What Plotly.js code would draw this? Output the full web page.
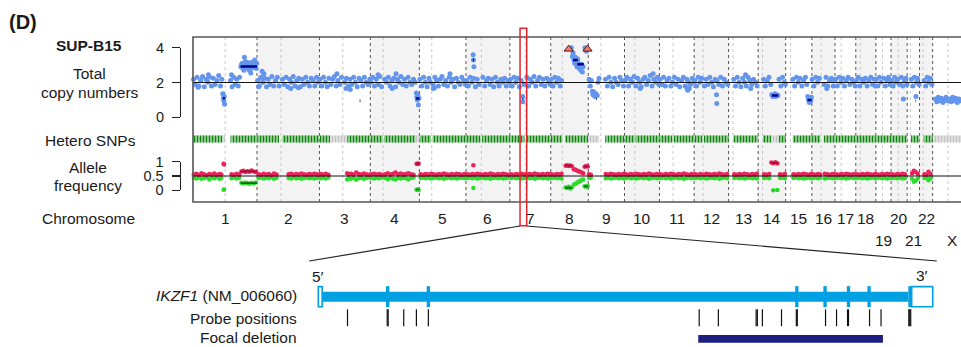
<!DOCTYPE html>
<html><head><meta charset="utf-8">
<script src="https://cdn.plot.ly/plotly-3.0.1.min.js"></script>
<style>html,body{margin:0;padding:0;background:#fff}#chart{width:961px;height:347px}</style>
</head><body><div id="chart"></div>
<script>
// ---------------- DATA ----------------
const chrNames = ['1','2','3','4','5','6','7','8','9','10','11','12','13','14','15','16','17','18','19','20','21','22','X'];
const chrSizes = [249,243,198,191,181,171,159,146,141,136,135,134,115,107,102,90,81,78,59,63,48,51,155];
const chrCentromeres = [125,93,91,50,48,60,60,45,49,40,53,35,17,17,19,36,24,17,26,28,13,14,60];
const secondRowLabels = ['19','21','X'];

// total copy number points: [genome position (Mb), copy number]
const cnPoints = [
 [2,2.18],[9,1.88],[16,2.3],[20,1.72],[23,1.8],[30,2.12],[37,2.35],[44,1.75],[51,2.18],[58,2.02],[60,2.45],[65,2.3],[72,1.8],[79,2.25],[86,1.88],[93,2.12],[100,2.4],[107,1.8],[112,2.18],
 [116,1.35],[118,1.1],[120,0.95],[122,1.2],[123,0.75],
 [146,2.12],[150,2.45],[152,1.75],[158,2.3],[164,1.88],[170,2.18],[176,1.8],[181,2.3],
 [186,2.9],[189,3.05],[192,3.1],[195,2.8],[198,2.7],[200,3.45],[201,3.0],[204,3.2],[207,2.9],[210,2.85],[213,3.15],[216,3.0],[219,2.7],[222,2.75],[225,2.55],[228,3.15],[231,2.85],[234,2.95],[237,3.05],[240,3.3],[243,2.95],[246,2.8],[248,3.1],
 [251,2.12],[255,1.75],[258,1.8],[262,2.25],[265,2.3],[269,2.65],[272,2.02],[276,2.5],[279,2.25],[286,1.75],[293,2.18],[300,1.88],[307,2.35],[314,1.8],[321,2.12],[328,2.3],[335,1.8],[348,2.18],[355,1.88],[362,2.3],[369,1.75],[376,2.18],[380,1.65],[383,2.02],[390,2.35],[397,1.8],[404,2.12],[410,1.7],[411,2.25],[418,1.75],[425,2.18],[432,1.88],[439,2.3],[446,2.02],[453,1.8],[460,2.25],[467,2.12],[474,1.8],[481,2.3],[488,2.02],
 [494,2.18],[501,1.8],[508,2.3],[515,2.02],[522,1.75],[529,2.25],[536,1.88],[543,2.18],[550,2.35],[557,1.8],[560,2.5],[564,2.12],[571,1.88],[578,2.3],[590,2.02],[595,1.65],[597,2.25],[604,1.8],[605,1.7],[611,2.18],[612,1.6],[618,1.88],[625,2.3],[632,2.02],[639,1.75],[646,2.25],[653,2.12],[660,1.8],[667,2.3],[674,2.02],[681,1.88],[688,2.18],
 [692,2.02],[699,2.3],[706,1.8],[713,2.18],[720,2.45],[722,1.88],[727,2.35],[734,1.75],[746,2.18],[753,2.02],[760,2.3],[767,1.8],[774,2.12],[775,1.65],[781,2.25],[788,1.75],[790,2.5],[795,2.18],[802,2.02],[809,2.35],[816,1.88],[823,2.18],[830,1.8],[837,2.3],[844,2.02],[851,1.88],[858,2.18],[864,2.02],
 [869,1.4],[871,1.15],[873,1.0],[875,1.25],[877,0.7],[879,1.1],
 [883,2.18],[890,1.8],[897,2.3],[904,2.02],[911,1.75],[918,2.25],[924,2.02],[934,1.88],[935,1.65],[940,1.7],[941,2.3],[948,2.12],[955,1.8],[962,2.18],[969,2.35],[976,1.88],[983,2.12],[990,1.8],[997,2.3],[1000,2.5],[1004,2.02],[1011,2.18],[1018,1.75],[1025,2.25],[1032,2.02],[1039,1.88],[1046,2.3],[1053,2.12],[1060,1.88],
 [1064,2.12],[1071,1.8],[1078,2.3],[1085,2.02],[1090,3.6],[1091,3.3],[1092,2.25],[1093,2.9],[1099,1.75],[1106,2.18],[1113,1.88],[1128,2.3],[1135,1.8],[1142,2.12],[1149,2.25],[1156,1.88],[1163,2.18],[1170,1.75],[1177,2.3],[1184,2.02],[1191,1.8],[1198,2.18],[1205,2.02],[1212,2.25],[1219,1.8],[1226,2.12],[1231,2.02],
 [1235,2.18],[1242,1.8],[1249,2.3],[1256,2.02],[1263,2.25],[1270,1.75],[1277,2.12],[1283,1.2],[1283.5,0.9],[1288,1.88],[1299,2.3],[1306,1.8],[1313,2.18],[1320,2.02],[1327,2.35],[1334,1.8],[1341,2.12],[1348,2.3],[1355,1.88],[1362,2.18],[1369,1.8],[1376,2.25],[1383,2.02],[1390,1.88],
 [1394,2.18],[1401,1.8],[1408,2.3],[1415,2.02],[1422,2.25],[1429,1.8],[1434,2.12],
 [1451,4.3],[1454,4.5],[1457,4.1],[1460,4.6],[1463,4.2],[1469,4.4],[1472,4.0],
 [1476,3.5],[1479,3.7],[1482,3.3],[1485,3.1],[1488,3.45],[1491,3.2],[1494,2.9],[1497,3.35],[1500,3.1],[1503,2.8],[1506,3.0],[1509,2.7],[1512,3.05],[1515,2.6],[1518,2.9],
 [1522,4.3],[1525,4.0],[1528,4.5],[1531,3.8],[1534,4.2],[1537,4.4],
 [1541,2.18],[1546,1.8],[1550,2.12],[1554,1.5],[1556,1.3],[1560,1.45],[1564,1.2],[1568,1.35],[1573,1.25],[1576,2.02],[1580,2.25],
 [1605,2.18],[1612,1.8],[1619,2.3],[1626,2.02],[1633,1.75],[1640,2.25],[1647,2.02],[1654,1.88],[1661,2.3],[1668,2.12],[1675,1.8],
 [1681,2.12],[1688,2.3],[1695,1.8],[1702,2.18],[1709,2.02],[1716,2.35],[1723,1.8],[1730,2.25],[1737,2.02],[1740,1.65],[1744,1.75],[1751,2.18],[1758,2.3],[1765,1.88],[1772,2.12],[1779,2.4],[1786,1.8],[1790,2.5],[1793,2.18],[1800,2.02],[1807,2.3],[1813,1.88],
 [1817,2.18],[1824,1.88],[1831,2.3],[1838,1.8],[1845,2.12],[1852,2.25],[1859,1.8],[1866,2.02],[1873,2.3],[1880,1.88],[1887,2.18],[1894,1.75],[1901,2.12],[1908,2.3],[1915,1.8],[1921,1.7],[1922,2.18],[1925,1.55],[1929,2.02],[1931,1.65],[1936,1.88],[1943,2.25],[1948,2.02],
 [1952,2.12],[1959,1.8],[1966,2.3],[1973,2.02],[1980,2.25],[1990,1.8],[1997,2.18],[2004,1.88],[2011,2.3],[2018,2.02],[2025,1.75],[2032,2.18],[2037,1.3],[2038,0.8],[2039,2.12],[2046,1.88],[2053,2.3],[2060,1.8],[2067,2.18],[2074,2.02],[2081,1.88],
 [2104,2.18],[2111,1.8],[2118,2.3],[2125,2.02],[2132,1.75],[2139,2.25],[2146,2.02],[2150,2.45],[2153,1.8],[2160,2.3],[2167,2.12],[2170,1.65],[2174,1.88],[2181,2.18],[2188,2.02],[2195,1.8],
 [2220,2.18],[2227,1.8],[2234,2.12],[2241,2.3],[2248,1.88],[2252,1.3],[2256,1.2],[2260,1.25],[2264,1.35],[2268,1.2],[2272,1.3],[2276,1.25],[2280,2.18],[2287,1.8],[2294,2.3],[2301,2.02],[2305,1.88],
 [2334,2.18],[2341,1.8],[2348,2.3],[2355,2.02],[2362,2.25],[2369,1.8],[2376,2.12],[2383,2.3],[2388,1.88],[2392,1.2],[2395,1.0],[2398,0.85],[2401,1.1],[2404,0.95],[2406,1.15],
 [2409,2.18],[2416,1.8],[2423,2.3],[2430,2.02],[2437,2.25],[2456,1.88],[2463,2.3],[2466,1.65],[2470,1.8],[2477,2.12],[2484,2.25],[2491,1.8],[2496,2.12],
 [2500,2.18],[2507,1.8],[2514,2.3],[2521,2.02],[2528,2.25],[2535,1.8],[2542,2.12],[2549,2.3],[2556,1.88],[2563,2.18],[2570,2.02],[2577,1.8],
 [2581,2.12],[2588,2.3],[2595,1.8],[2602,2.18],[2609,2.02],[2616,2.25],[2623,1.8],[2630,2.12],[2637,2.3],[2644,1.88],[2651,2.18],[2655,1.8],
 [2659,2.18],[2665,1.8],[2671,2.3],[2677,2.02],[2688,2.25],[2694,1.8],[2700,2.12],[2706,2.3],[2712,1.88],
 [2718,2.12],[2724,1.8],[2730,2.3],[2736,2.02],[2742,2.18],[2750,1.88],[2756,2.3],[2762,1.8],[2764,1.05],[2768,2.12],[2774,2.25],[2778,1.88],
 [2795,2.18],[2801,1.8],[2807,2.3],[2813,1.2],[2815,2.02],[2819,2.25],[2825,1.88],
 [2845,2.12],[2851,1.8],[2857,2.3],[2863,2.02],[2869,2.25],[2875,1.88],
 [2888,1.05],[2894,0.9],[2900,1.15],[2906,0.95],[2912,1.1],[2918,0.85],[2924,1.0],[2930,1.15],[2936,0.95],[2944,1.05],[2950,0.9],[2956,1.15],[2962,0.95],[2968,1.1],[2974,0.85],[2980,1.05],[2986,0.95]
];
// segmented copy number (dark blue): [start, end, copy number]
const cnSegments = [[116,124,1.1],[185,249,2.92],[648.5,651.5,0.95],[867,881,1.08],[1089,1094,3.3],[1282,1285,1.05],[1450,1475,4.1],[1479,1497,3.3],[1495,1521,3.05],[1521,1538,4.1],[1556.5,1558.5,-0.1],[1569.5,1572,1.05],[2252,2277,1.25],[2391,2407,1.0],[2811.5,2813.5,0.95]];
// flagged high-level gain markers (red triangles)
const gainFlags = [[1462,3.92],[1535,3.92]];

// hetero SNP runs: [start, end, kind]
const snpRuns = [[1,115,'het'],[116,124,'hom'],[146,249,'het'],[250,335,'het'],[348,491,'het'],[493,533,'het'],[533,600,'hom'],[600,690,'het'],[691,738,'het'],[743,866,'het'],[866,881,'hom'],[882,926,'het'],[932,1119,'het'],[1125,1233,'het'],[1234,1290,'het'],[1296,1391,'het'],[1393,1437,'het'],[1447,1538,'het'],[1538,1580,'hom'],[1604,1679,'het'],[1680,1718,'het'],[1722,1815,'het'],[1816,1866,'het'],[1870,1950,'het'],[1951,1983,'het'],[1988,2084,'het'],[2103,2199,'het'],[2218,2250,'het'],[2250,2278,'hom'],[2278,2306,'het'],[2334,2408,'het'],[2409,2441,'het'],[2454,2498,'het'],[2499,2579,'het'],[2580,2657,'het'],[2658,2716,'het'],[2717,2779,'het'],[2794,2827,'het'],[2843,2878,'het'],[2880,2990,'hom']];

// allele frequency: [position, upper allele, lower allele]
const afPoints = [
 [3,.55,.44],[13,.58,.41],[23,.54,.45],[33,.6,.4],[43,.56,.43],[53,.53,.46],[63,.57,.38],[73,.55,.44],[83,.59,.42],[93,.54,.46],[103,.57,.4],[110,.55,.43],[119,.93,.02],[121,.9,.03],[150,.56,.42],[160,.54,.45],[170,.58,.41],[180,.55,.44],[188,.66,.26],[196,.68,.24],[204,.64,.27],[212,.67,.25],[220,.65,.23],[228,.69,.26],[236,.66,.24],[244,.64,.27],
 [255,.56,.43],[265,.54,.45],[275,.58,.41],[285,.55,.44],[295,.57,.42],[305,.53,.46],[315,.59,.4],[325,.55,.44],[372,.56,.43],[382,.58,.41],[392,.54,.45],[402,.57,.42],[412,.55,.44],[422,.59,.4],[432,.56,.43],[442,.54,.45],[452,.57,.42],[462,.55,.44],[472,.58,.41],[482,.56,.43],[490,.54,.45],
 [497,.57,.42],[507,.55,.44],[517,.58,.41],[527,.54,.45],[600,.6,.38],[606,.56,.43],[615,.58,.4],[625,.55,.44],[635,.62,.37],[645,.57,.42],[655,.55,.44],[665,.59,.4],[675,.56,.43],[685,.54,.45],
 [695,.56,.43],[705,.58,.41],[715,.55,.44],[725,.57,.42],[735,.54,.45],[748,.56,.43],[758,.6,.39],[768,.55,.44],[778,.58,.4],[788,.62,.38],[798,.56,.43],[808,.59,.41],[818,.55,.44],[828,.57,.42],[838,.6,.38],[848,.56,.43],[858,.54,.45],[870,.93,.02],[874,.92,.03],[878,.94,.01],
 [886,.56,.43],[896,.54,.45],[906,.57,.42],[916,.55,.44],[926,.58,.41],[936,.56,.43],[946,.54,.45],[956,.57,.42],[966,.55,.44],[976,.59,.4],[986,.56,.43],[996,.54,.45],[1006,.57,.42],[1016,.55,.44],[1026,.58,.41],[1036,.56,.43],[1046,.54,.45],[1056,.57,.42],
 [1067,.56,.43],[1077,.54,.45],[1087,.57,.42],[1091,.88,.08],[1097,.55,.44],[1107,.58,.41],[1117,.56,.43],[1127,.54,.45],[1137,.57,.42],[1147,.55,.44],[1157,.59,.4],[1167,.56,.43],[1177,.54,.45],[1187,.57,.42],[1197,.55,.44],[1207,.58,.41],[1217,.56,.43],[1227,.54,.45],
 [1238,.56,.43],[1248,.54,.45],[1258,.57,.42],[1268,.55,.44],[1278,.58,.41],[1290,.56,.43],[1300,.54,.45],[1310,.57,.42],[1320,.55,.44],[1330,.59,.4],[1340,.56,.43],[1350,.54,.45],[1360,.57,.42],[1370,.55,.44],[1380,.58,.41],[1389,.56,.43],
 [1396,.56,.43],[1406,.54,.45],[1416,.57,.42],[1426,.55,.44],[1434,.58,.41],[1450,.86,.1],[1456,.88,.08],[1462,.85,.12],[1468,.87,.06],[1474,.84,.1],[1482,.74,.2],[1488,.72,.22],[1494,.69,.26],[1500,.67,.3],[1506,.65,.32],[1512,.62,.36],[1518,.6,.38],[1524,.82,.14],[1530,.85,.12],[1536,.83,.15],
 [1541,.56,.43],[1548,.54,.45],[1606,.57,.42],[1616,.55,.44],[1626,.58,.41],[1636,.56,.43],[1646,.54,.45],[1656,.57,.42],[1666,.55,.44],[1676,.58,.41],
 [1684,.56,.43],[1694,.54,.45],[1704,.57,.42],[1714,.55,.44],[1724,.58,.41],[1734,.56,.43],[1744,.54,.45],[1754,.57,.42],[1764,.55,.44],[1774,.59,.4],[1784,.56,.43],[1794,.54,.45],[1804,.57,.42],[1812,.55,.44],
 [1820,.56,.43],[1830,.54,.45],[1840,.57,.42],[1850,.55,.44],[1860,.58,.41],[1870,.56,.43],[1880,.54,.45],[1890,.57,.42],[1900,.55,.44],[1910,.59,.4],[1920,.56,.43],[1930,.54,.45],[1940,.57,.42],[1947,.55,.44],
 [1955,.56,.43],[1965,.54,.45],[1975,.57,.42],[1988,.55,.44],[1998,.58,.41],[2008,.56,.43],[2018,.54,.45],[2028,.57,.42],[2038,.55,.44],[2048,.59,.4],[2058,.56,.43],[2068,.54,.45],[2078,.57,.42],
 [2106,.56,.43],[2116,.54,.45],[2126,.57,.42],[2136,.55,.44],[2146,.58,.41],[2156,.56,.43],[2166,.54,.45],[2176,.57,.42],[2186,.55,.44],[2194,.58,.41],
 [2222,.56,.43],[2232,.54,.45],[2242,.57,.42],[2250,.97,-.03],[2258,.95,.0],[2266,.98,-.05],[2274,.94,.01],[2284,.56,.43],[2294,.54,.45],[2303,.57,.42],
 [2336,.56,.43],[2346,.54,.45],[2356,.57,.42],[2366,.55,.44],[2376,.58,.41],[2386,.56,.43],[2396,.54,.45],[2404,.57,.42],
 [2412,.56,.43],[2422,.54,.45],[2432,.57,.42],[2440,.55,.44],[2458,.58,.41],[2468,.56,.43],[2478,.54,.45],[2488,.57,.42],[2495,.55,.44],
 [2502,.56,.43],[2512,.54,.45],[2522,.57,.42],[2532,.55,.44],[2542,.58,.41],[2552,.56,.43],[2562,.54,.45],[2572,.57,.42],
 [2584,.56,.43],[2594,.54,.45],[2604,.57,.42],[2614,.55,.44],[2624,.58,.41],[2634,.56,.43],[2644,.54,.45],[2654,.57,.42],
 [2661,.56,.43],[2671,.54,.45],[2681,.57,.42],[2691,.55,.44],[2701,.58,.41],[2711,.56,.43],
 [2720,.56,.43],[2730,.54,.45],[2740,.57,.42],[2750,.55,.44],[2760,.58,.41],[2770,.56,.43],
 [2798,.6,.4],[2805,.68,.3],[2812,.64,.33],[2820,.58,.41],
 [2846,.56,.43],[2854,.54,.45],[2862,.65,.35],[2870,.57,.42]
];
const afSegments = [[185,249,.66,.25],[867,881,.93,.02],[1448,1476,.86,.09],[1521,1538,.83,.14],[2250,2277,.96,-.02]];

// IKZF1 (NM_006060) gene model, kb from transcription start
const exonStarts = [0, 14.4, 22.9, 99.9, 105.8, 110.7, 115.0, 123.3];
const exonEnds   = [0.8, 14.6, 23.1, 100.1, 106.0, 110.9, 115.2, 128.4];
const cdsStart = 14.4, cdsEnd = 124.0;
const probePositions = [6.1,14.4,14.6,17.85,20.5,23.0,79.6,83.6,91.5,91.75,92.8,96.8,99.9,100.1,106.0,108.3,110.6,110.8,115.2,117.6,123.4,123.6,123.8];
const focalDeletion = [79.4, 118.0];
const zoomRegion = [1272.5, 1298.5]; // genome Mb window around IKZF1 on chr7

// ---------------- GEOMETRY ----------------
const W = 961, H = 347;
const px = v => v / W, py = v => 1 - v / H;
const FONT = 'Liberation Sans, Arial, sans-serif';
const TXT = '#1a1a1a';
const genomeRange = [0, 2988.3];
const frameL = 193, frameT = 37, frameB = 202;
const xDom = [px(frameL), 1];
const geneRange = [-66.52, 134.31];
const gx = mb => xDom[0] + (mb - genomeRange[0]) / (genomeRange[1] - genomeRange[0]) * (xDom[1] - xDom[0]);
const kx = kb => (kb - geneRange[0]) / (geneRange[1] - geneRange[0]);

const offsets = []; { let a = 0; chrSizes.forEach(s => { offsets.push(a); a += s; }); }

const BLUE = '#00A0E3';
const traces = [];

// SNP band
['het','hom'].forEach(kind => {
  const runs = snpRuns.filter(r => r[2] === kind);
  traces.push({type:'bar', xaxis:'x', yaxis:'y2',
    x: runs.map(r => (r[0]+r[1])/2), width: runs.map(r => r[1]-r[0]), y: runs.map(() => 1), base: 0,
    marker: {color: kind==='het' ? '#c6e6c6' : '#ececec', line:{width:0},
      pattern: {shape:'|', size:3, solidity:0.55, fgcolor: kind==='het' ? '#0f820f' : '#c2c2c2', bgcolor: kind==='het' ? '#c6e6c6' : '#ececec'}},
    hoverinfo:'skip', showlegend:false});
});

// CN points
traces.push({type:'scatter', mode:'markers', xaxis:'x', yaxis:'y', cliponaxis:false,
  x: cnPoints.map(p => p[0]), y: cnPoints.map(p => p[1]),
  marker:{size:5, color:'#6495ED', line:{width:0}}, showlegend:false, hoverinfo:'skip'});
// CN segments
{ const sx = [], sy = [];
  cnSegments.forEach(s => { sx.push(s[0], s[1], null); sy.push(s[2], s[2], null); });
  traces.push({type:'scatter', mode:'lines', xaxis:'x', yaxis:'y', cliponaxis:false, x:sx, y:sy,
    line:{color:'#00008B', width:2.5}, showlegend:false, hoverinfo:'skip'});
}
traces.push({type:'scatter', mode:'markers', xaxis:'x', yaxis:'y', cliponaxis:false,
  x: gainFlags.map(p => p[0]), y: gainFlags.map(p => p[1]),
  marker:{symbol:'triangle-up', size:8, color:'#f07f6e', line:{color:'#5a1010', width:1}}, showlegend:false, hoverinfo:'skip'});

// AF points
traces.push({type:'scatter', mode:'markers', xaxis:'x', yaxis:'y3', cliponaxis:false,
  x: afPoints.map(p => p[0]), y: afPoints.map(p => p[2]),
  marker:{size:4.5, color:'#2add2a'}, showlegend:false, hoverinfo:'skip'});
traces.push({type:'scatter', mode:'markers', xaxis:'x', yaxis:'y3', cliponaxis:false,
  x: afPoints.map(p => p[0]), y: afPoints.map(p => p[1]),
  marker:{size:4.5, color:'#e8245a'}, showlegend:false, hoverinfo:'skip'});
{ const rx=[], ry=[], gy=[];
  afSegments.forEach(s => { rx.push(s[0], s[1], null); ry.push(s[2], s[2], null); gy.push(s[3], s[3], null); });
  traces.push({type:'scatter', mode:'lines', xaxis:'x', yaxis:'y3', cliponaxis:false, x:rx, y:ry, line:{color:'#9a0f2e', width:1.8}, showlegend:false, hoverinfo:'skip'});
  traces.push({type:'scatter', mode:'lines', xaxis:'x', yaxis:'y3', cliponaxis:false, x:rx, y:gy, line:{color:'#0b6b0b', width:1.8}, showlegend:false, hoverinfo:'skip'});
}

// Gene model
const nEx = exonStarts.length;
traces.push({type:'scatter', mode:'lines', xaxis:'x2', yaxis:'y5', x:[exonEnds[0], exonStarts[nEx-1]], y:[2,2],
  line:{color:BLUE, width:10}, showlegend:false, hoverinfo:'skip'});
{ const cB=[], cL=[], uB=[], uL=[];
  for (let i=0;i<nEx;i++){
    const s = exonStarts[i], e = exonEnds[i];
    const cs = Math.max(s, cdsStart), ce = Math.min(e, cdsEnd);
    if (ce > cs) { const len = Math.max(ce-cs, 0.7), mid=(cs+ce)/2; cB.push(mid-len/2); cL.push(len); }
    if (s < cdsStart) { uB.push(s); uL.push(Math.min(e,cdsStart)-s); }
    if (e > cdsEnd) { uB.push(Math.max(s,cdsEnd)); uL.push(e-Math.max(s,cdsEnd)); }
  }
  traces.push({type:'bar', orientation:'h', xaxis:'x2', yaxis:'y5', base:cB, x:cL, y:cB.map(()=>2), width:1.0,
    marker:{color:BLUE, line:{width:0}}, showlegend:false, hoverinfo:'skip'});
  traces.push({type:'bar', orientation:'h', xaxis:'x2', yaxis:'y5', base:uB, x:uL, y:uB.map(()=>2), width:0.96,
    marker:{color:'#ffffff', line:{color:BLUE, width:1.6}}, showlegend:false, hoverinfo:'skip'});
}
traces.push({type:'scatter', mode:'markers', xaxis:'x2', yaxis:'y5', x:probePositions, y:probePositions.map(()=>1),
  marker:{symbol:'line-ns-open', size:12, color:'#111', line:{color:'#111', width:1.2}}, showlegend:false, hoverinfo:'skip'});
traces.push({type:'bar', orientation:'h', xaxis:'x2', yaxis:'y5', base:[focalDeletion[0]], x:[focalDeletion[1]-focalDeletion[0]], y:[0], width:0.37,
  marker:{color:'#1d1f80', line:{width:0}}, showlegend:false, hoverinfo:'skip'});

// ---------------- SHAPES ----------------
const shapes = [];
chrSizes.forEach((s,i) => {
  if (i % 2 === 1) shapes.push({type:'rect', xref:'x', yref:'paper', x0:offsets[i], x1:offsets[i]+s, y0:py(frameB), y1:py(frameT),
    fillcolor:'#f3f3f3', line:{width:0}, layer:'below'});
});
chrSizes.forEach((s,i) => {
  shapes.push({type:'line', xref:'x', yref:'paper', x0:offsets[i]+chrCentromeres[i], x1:offsets[i]+chrCentromeres[i], y0:py(frameB), y1:py(frameT),
    line:{color:'#c8c8c8', width:1, dash:'dot'}, layer:'below'});
  if (i > 0) shapes.push({type:'line', xref:'x', yref:'paper', x0:offsets[i], x1:offsets[i], y0:py(frameB), y1:py(frameT),
    line:{color:'#555', width:1, dash:'3px,3px'}, layer:'below'});
});
shapes.push({type:'line', xref:'paper', yref:'y', x0:xDom[0], x1:1, y0:2, y1:2, line:{color:'#111', width:1}, layer:'above'});
shapes.push({type:'line', xref:'paper', yref:'y3', x0:xDom[0], x1:1, y0:0.5, y1:0.5, line:{color:'#111', width:1}, layer:'above'});
shapes.push({type:'rect', xref:'paper', yref:'paper', x0:xDom[0], x1:px(990), y0:py(frameB), y1:py(frameT),
  line:{color:'#555', width:1.6}, fillcolor:'rgba(0,0,0,0)', layer:'above'});
shapes.push({type:'rect', xref:'x', yref:'paper', x0:zoomRegion[0], x1:zoomRegion[1], y0:py(225.7), y1:py(28.3),
  line:{color:'#e3232c', width:1.5}, fillcolor:'rgba(0,0,0,0)', layer:'above'});
shapes.push({type:'line', xref:'paper', yref:'paper', x0:gx(zoomRegion[0]), y0:py(226), x1:kx(exonStarts[0]-1.9), y1:py(261), line:{color:'#222', width:1.2}});
shapes.push({type:'line', xref:'paper', yref:'paper', x0:gx(zoomRegion[1]), y0:py(226), x1:kx(exonEnds[nEx-1]+0.85), y1:py(261), line:{color:'#222', width:1.2}});

// ---------------- ANNOTATIONS ----------------
const ann = [];
const T = (text, x, y, opts={}) => ann.push(Object.assign({text, x:px(x), y:py(y), xref:'paper', yref:'paper', showarrow:false,
  xanchor:'center', yanchor:'middle', font:{family:FONT, size:15.5, color:TXT}}, opts));
T('<b>(D)</b>', 7, 22, {xanchor:'left', font:{family:FONT, size:20, color:TXT}});
T('<b>SUP-B15</b>', 89, 45);
T('Total', 89, 73);
T('copy numbers', 90, 92);
T('Hetero SNPs', 90, 140);
T('Allele', 88, 167);
T('frequency', 88, 185);
T('Chromosome', 88, 218);
chrNames.forEach((n,i) => ann.push({text:n, x:offsets[i]+chrSizes[i]/2, xref:'x', y:py(secondRowLabels.includes(n) ? 240 : 218), yref:'paper',
  showarrow:false, xanchor:'center', yanchor:'middle', font:{family:FONT, size:15.5, color:TXT}}));
T('<i>IKZF1</i> (NM_006060)', 299, 295, {xanchor:'right'});
T('Probe positions', 299, 318.5, {xanchor:'right'});
T('Focal deletion', 299, 337, {xanchor:'right'});
ann.push({text:'5\u2032', x:exonStarts[0], xref:'x2', y:py(276), yref:'paper', showarrow:false, xanchor:'center', yanchor:'middle', font:{family:FONT, size:15.5, color:TXT}});
ann.push({text:'3\u2032', x:exonEnds[nEx-1]-2.3, xref:'x2', y:py(275), yref:'paper', showarrow:false, xanchor:'center', yanchor:'middle', font:{family:FONT, size:15.5, color:TXT}});

const axBracket = {showline:true, linecolor:'#222', linewidth:1.2, ticks:'outside', ticklen:8, tickwidth:1.2, tickcolor:'#222',
  showgrid:false, zeroline:false, tickfont:{family:FONT, size:14.5, color:TXT}, anchor:'free', side:'left', fixedrange:true, ticklabelstandoff:5};

const layout = {
  width:W, height:H, margin:{l:0,r:0,t:0,b:0}, paper_bgcolor:'#fff', plot_bgcolor:'rgba(0,0,0,0)',
  barmode:'overlay', showlegend:false, font:{family:FONT, color:TXT},
  xaxis:{domain:xDom, range:genomeRange, visible:false, anchor:'y', fixedrange:true},
  yaxis:Object.assign({}, axBracket, {domain:[py(117.3), py(47.7)], range:[0,4], tickvals:[0,2,4], position:px(180)}),
  yaxis2:{domain:[py(142.7), py(135.3)], range:[0,1], visible:false, anchor:'x'},
  yaxis3:Object.assign({}, axBracket, {domain:[py(190.3), py(161.7)], range:[0,1], tickvals:[0,0.5,1], ticktext:['0','0.5','1'], position:px(179.5)}),
  xaxis2:{domain:[0,1], range:geneRange, visible:false, anchor:'y5'},
  yaxis5:{domain:[0, py(270)], range:[-0.3895, 3.268], visible:false, anchor:'x2'},
  shapes, annotations:ann
};
Plotly.newPlot('chart', traces, layout, {staticPlot:true, displayModeBar:false});
</script>
</body></html>
